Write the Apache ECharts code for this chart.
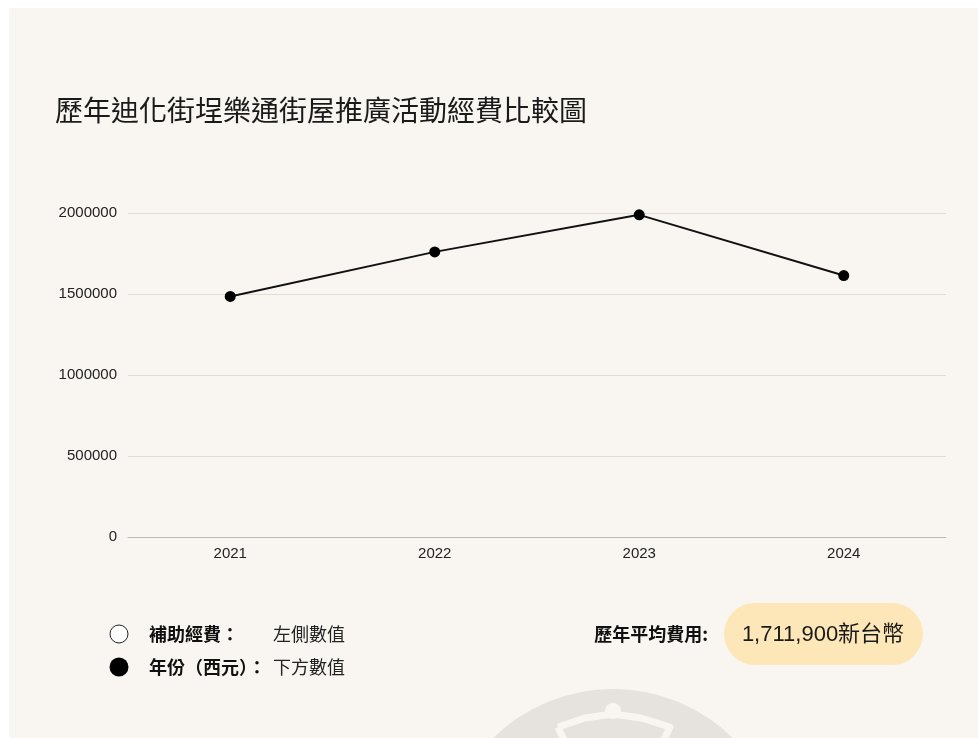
<!DOCTYPE html>
<html>
<head>
<meta charset="utf-8">
<script src="https://cdn.jsdelivr.net/npm/echarts@6/dist/echarts.min.js"></script>
<style>
html,body{margin:0;padding:0;background:#fff;}
#chart{width:978px;height:738px;}
</style>
</head>
<body>
<div id="chart"></div>
<script>
const title = '歷年迪化街埕樂通街屋推廣活動經費比較圖';
const years = ['2021', '2022', '2023', '2024'];
const funds = [1485000, 1760000, 1988600, 1614000];
const yTicks = [0, 500000, 1000000, 1500000, 2000000];
const legendItems = [['補助經費：', '左側數值'], ['年份（西元）：', '下方數值']];
const avgLabel = '歷年平均費用:';
const avgValue = '1,711,900新台幣';

const CJK = '"Noto Sans CJK TC", "Noto Sans", sans-serif';
const NUM = '"Liberation Sans", "Noto Sans CJK TC", sans-serif';
const card = '#f9f6f2';

const chart = echarts.init(document.getElementById('chart'));
chart.setOption({
  backgroundColor: '#ffffff',
  animation: false,
  title: {
    text: title, left: 50, top: 91,
    textStyle: { fontFamily: CJK, fontSize: 28, fontWeight: 'normal', color: '#1a1a1a' }
  },
  grid: { left: 128, right: 32, top: 213, bottom: 201 },
  xAxis: {
    type: 'category', data: years, boundaryGap: true,
    axisLine: { lineStyle: { color: '#bdbab5' } },
    axisTick: { show: false },
    axisLabel: { fontFamily: NUM, fontSize: 15, color: '#222', margin: 9 }
  },
  yAxis: {
    type: 'value', min: yTicks[0], max: yTicks[yTicks.length - 1], interval: yTicks[1] - yTicks[0],
    axisLine: { show: false }, axisTick: { show: false },
    axisLabel: { fontFamily: NUM, fontSize: 15, color: '#222', margin: 11, formatter: v => String(v) },
    splitLine: { lineStyle: { color: '#e0dcd6' } }
  },
  series: [{
    type: 'line', data: funds, z: 5,
    symbol: 'circle', symbolSize: 11,
    itemStyle: { color: '#000' },
    lineStyle: { color: '#111', width: 2 }
  }],
  graphic: [
    { type: 'rect', z: -10, silent: true, shape: { x: 9, y: 8, width: 980, height: 740 }, style: { fill: card } },
    { type: 'circle', z: -9, silent: true, shape: { cx: 613, cy: 860, r: 171 }, style: { fill: '#e6e2dd' } },
    { type: 'polyline', z: -8, silent: true, shape: { points: [[558,727],[585,718],[613,714],[641,718],[670,727],[640,790],[586,790],[558,727]] }, style: { fill: 'none', stroke: card, lineWidth: 7, lineJoin: 'round' } },
    { type: 'circle', z: -8, silent: true, shape: { cx: 613, cy: 711, r: 8 }, style: { fill: card } },
    { type: 'circle', shape: { cx: 119, cy: 634, r: 9 }, style: { fill: '#fff', stroke: '#222', lineWidth: 1 } },
    { type: 'circle', shape: { cx: 119, cy: 667, r: 9.5 }, style: { fill: '#000' } },
    { type: 'text', x: 149, y: 634, style: { text: legendItems[0][0], font: 'bold 18px ' + CJK, fill: '#111', verticalAlign: 'middle' } },
    { type: 'text', x: 273, y: 634, style: { text: legendItems[0][1], font: '18px ' + CJK, fill: '#222', verticalAlign: 'middle' } },
    { type: 'text', x: 149, y: 667, style: { text: legendItems[1][0], font: 'bold 18px ' + CJK, fill: '#111', verticalAlign: 'middle' } },
    { type: 'text', x: 273, y: 667, style: { text: legendItems[1][1], font: '18px ' + CJK, fill: '#222', verticalAlign: 'middle' } },
    { type: 'text', x: 708, y: 634, style: { text: avgLabel, font: 'bold 18px ' + CJK, fill: '#111', align: 'right', verticalAlign: 'middle' } },
    { type: 'rect', shape: { x: 724, y: 603, width: 199, height: 62, r: 31 }, style: { fill: '#fde7b8' } },
    { type: 'text', x: 823, y: 635, style: { text: avgValue, font: '22px ' + NUM, fill: '#1a1a1a', align: 'center', verticalAlign: 'middle' } }
  ]
});
</script>
</body>
</html>
